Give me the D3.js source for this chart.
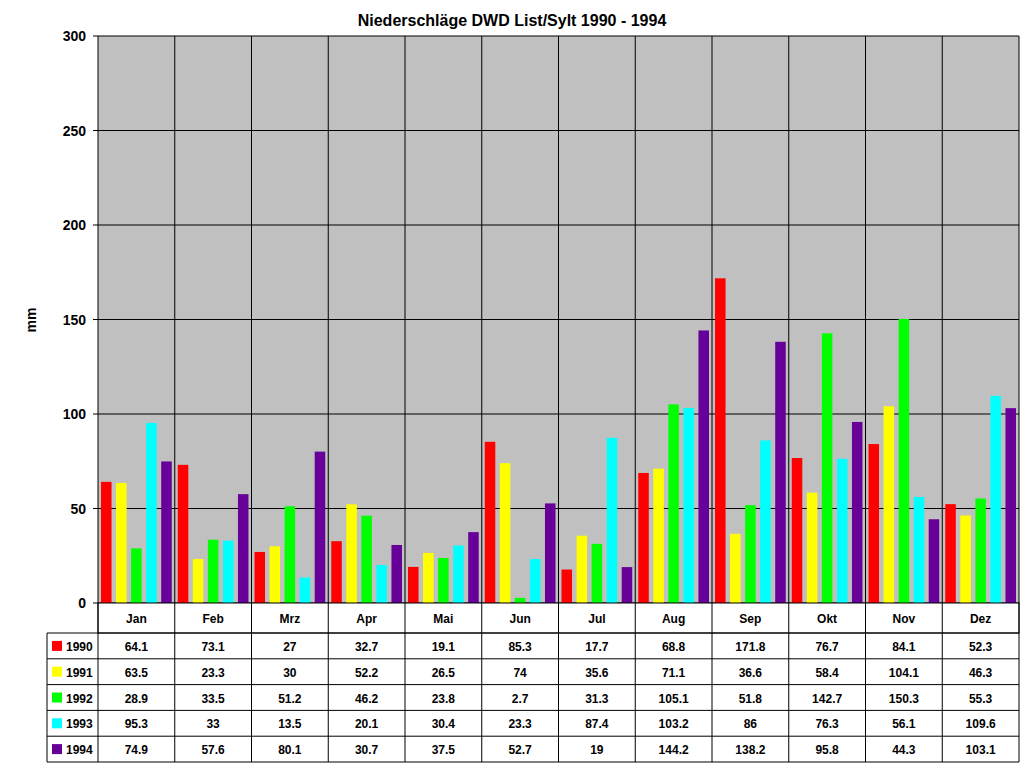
<!DOCTYPE html><html><head><meta charset="utf-8"><script src="https://cdn.jsdelivr.net/npm/d3@7"></script>
<style>body{margin:0;background:#fff}text{font-family:"Liberation Sans",Arial,sans-serif;font-weight:bold}</style></head><body>
<svg id="c" width="1024" height="768"></svg>
<script>
const months=["Jan","Feb","Mrz","Apr","Mai","Jun","Jul","Aug","Sep","Okt","Nov","Dez"];
const years=["1990","1991","1992","1993","1994"];
const colors=["#ff0000","#ffff00","#00ff00","#00ffff","#660099"];
const v1990=[64.1,73.1,27,32.7,19.1,85.3,17.7,68.8,171.8,76.7,84.1,52.3];
const v1991=[63.5,23.3,30,52.2,26.5,74,35.6,71.1,36.6,58.4,104.1,46.3];
const v1992=[28.9,33.5,51.2,46.2,23.8,2.7,31.3,105.1,51.8,142.7,150.3,55.3];
const v1993=[95.3,33,13.5,20.1,30.4,23.3,87.4,103.2,86,76.3,56.1,109.6];
const v1994=[74.9,57.6,80.1,30.7,37.5,52.7,19,144.2,138.2,95.8,44.3,103.1];
const yTicks=[0,50,100,150,200,250,300];
const series=[v1990,v1991,v1992,v1993,v1994];
const svg=d3.select("#c");
const L=98,R=1019,T=36,B=603;
const x=d3.scaleBand().domain(months).range([L,R]);
const xi=d3.scaleBand().domain(years).range([0,x.bandwidth()]).paddingInner(0.3).paddingOuter(0.2);
const y=d3.scaleLinear().domain([0,300]).range([B,T]);
svg.append("rect").attr("x",L).attr("y",T).attr("width",R-L).attr("height",B-T).attr("fill","#c0c0c0");
svg.append("g").selectAll("line").data(yTicks).join("line").attr("x1",L).attr("x2",R).attr("y1",d=>y(d)).attr("y2",d=>y(d)).attr("stroke","#000");
svg.append("g").selectAll("line").data(months).join("line").attr("x1",d=>x(d)).attr("x2",d=>x(d)).attr("y1",T).attr("y2",B).attr("stroke","#000");
svg.append("line").attr("x1",R).attr("x2",R).attr("y1",T).attr("y2",B).attr("stroke","#000");
series.forEach((s,i)=>{
 svg.append("g").selectAll("rect").data(s).join("rect")
 .attr("x",(d,j)=>x(months[j])+xi(years[i])).attr("width",xi.bandwidth())
 .attr("y",d=>y(d)).attr("height",d=>B-y(d)).attr("fill",colors[i]);
});
svg.append("g").selectAll("text").data(yTicks).join("text").attr("x",L-12).attr("y",d=>y(d)+5).attr("text-anchor","end").attr("font-size",14).text(d=>d);
svg.append("g").selectAll("line").data(yTicks).join("line").attr("x1",L-5).attr("x2",L).attr("y1",d=>y(d)).attr("y2",d=>y(d)).attr("stroke","#000");
svg.append("text").attr("x",512).attr("y",26).attr("text-anchor","middle").attr("font-size",16).text("Niederschläge DWD List/Sylt 1990 - 1994");
svg.append("text").attr("transform","translate(36,320) rotate(-90)").attr("text-anchor","middle").attr("font-size",14).text("mm");
// table
const rowH=25.8, tT=B+30, tL=47;
const tb=svg.append("g");
tb.append("rect").attr("x",L).attr("y",B).attr("width",R-L).attr("height",30).attr("fill","#fff").attr("stroke","#000");
tb.selectAll(".m").data(months).join("text").attr("x",d=>x(d)+x.bandwidth()/2).attr("y",B+20).attr("text-anchor","middle").attr("font-size",12).text(d=>d);
tb.selectAll(".vl").data(months).join("line").attr("x1",d=>x(d)).attr("x2",d=>x(d)).attr("y1",B).attr("y2",tT+5*rowH).attr("stroke","#000");
tb.append("line").attr("x1",R).attr("x2",R).attr("y1",B).attr("y2",tT+5*rowH).attr("stroke","#000");
tb.append("line").attr("x1",tL).attr("x2",tL).attr("y1",tT).attr("y2",tT+5*rowH).attr("stroke","#000");
years.forEach((yr,i)=>{
 const yy=tT+i*rowH;
 tb.append("line").attr("x1",tL).attr("x2",R).attr("y1",yy).attr("y2",yy).attr("stroke","#000");
 tb.append("rect").attr("x",tL+5).attr("y",yy+rowH/2-5).attr("width",10).attr("height",10).attr("fill",colors[i]);
 tb.append("text").attr("x",tL+19).attr("y",yy+rowH/2+5).attr("font-size",12).text(yr);
 tb.selectAll(null).data(series[i]).join("text").attr("x",(d,j)=>x(months[j])+x.bandwidth()/2).attr("y",yy+rowH/2+5).attr("text-anchor","middle").attr("font-size",12).text(d=>d);
});
tb.append("line").attr("x1",tL).attr("x2",R).attr("y1",tT+5*rowH).attr("y2",tT+5*rowH).attr("stroke","#000");
</script></body></html>
